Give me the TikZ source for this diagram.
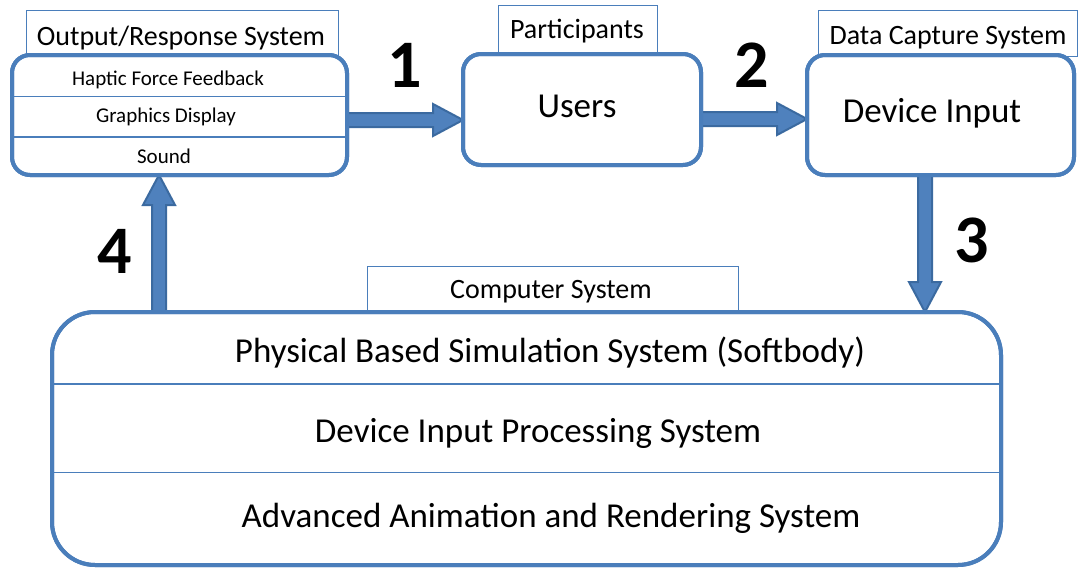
\documentclass[tikz,border=0pt]{standalone}
\usepackage{fontspec}
\setmainfont{Carlito}
\usetikzlibrary{calc}

\definecolor{boxblue}{RGB}{74,126,187}
\definecolor{arrowfill}{RGB}{79,129,189}
\definecolor{arrowedge}{RGB}{59,106,160}

\tikzset{
  caption/.style={draw=boxblue, line width=1pt, fill=white, inner sep=0pt, outer sep=0pt},
  roundbox/.style={draw=boxblue, line width=4pt, fill=white, inner sep=0pt, outer sep=0pt},
  divider/.style={draw=boxblue, line width=1.5pt},
  fatarrow/.style={fill=arrowfill, draw=arrowedge, line width=2pt, line join=miter},
  captiontext/.style={anchor=base, inner sep=0pt, font=\fontsize{28}{33}\selectfont},
  itemtext/.style={anchor=base, inner sep=0pt, font=\fontsize{21}{25}\selectfont},
  bigtext/.style={anchor=base, inner sep=0pt, font=\fontsize{35}{41}\selectfont},
  steplabel/.style={anchor=base, inner sep=0pt, font=\fontsize{68}{80}\selectfont\bfseries},
}

% horizontal block arrow: start, end, centre row
\newcommand\hblockarrow[3]{%
  \path[fatarrow] let \p1=(#1), \p2=(#2) in
    (\x1,{-(#3-7)*1pt}) -- ({\x2-30pt},{-(#3-7)*1pt}) -- ({\x2-30pt},{-(#3-16)*1pt})
    -- (\x2,{-(#3)*1pt}) -- ({\x2-30pt},{-(#3+16)*1pt}) -- ({\x2-30pt},{-(#3+7)*1pt})
    -- (\x1,{-(#3+7)*1pt}) -- cycle;}
% vertical block arrow: start, end, centre column, direction (+1 pointing down, -1 pointing up)
\newcommand\vblockarrow[4]{%
  \path[fatarrow] let \p1=(#1), \p2=(#2) in
    ({(#3-7)*1pt},\y1) -- ({(#3-7)*1pt},{\y2+#4*30pt}) -- ({(#3-16)*1pt},{\y2+#4*30pt})
    -- ({(#3)*1pt},\y2) -- ({(#3+16)*1pt},{\y2+#4*30pt}) -- ({(#3+7)*1pt},{\y2+#4*30pt})
    -- ({(#3+7)*1pt},\y1) -- cycle;}

\begin{document}
\begin{tikzpicture}[x=1pt,y=-1pt]
\useasboundingbox (0,0) rectangle (1079,570);
\fill[white] (0,0) rectangle (1079,570);

% caption tabs behind the boxes
\node[caption, minimum width=312, minimum height=46] (outcap) at (182,33) {};
\node[caption, minimum width=159, minimum height=50] (partcap) at (577.5,30) {};
\node[caption, minimum width=259, minimum height=46] (datacap) at (947.5,33) {};
\node[caption, minimum width=371, minimum height=46] (compcap) at (552.5,289) {};

% boxes
\node[roundbox, rounded corners=18pt, minimum width=335, minimum height=120] (outbox) at (179.5,115) {};
\node[roundbox, rounded corners=18pt, minimum width=238, minimum height=111] (users) at (582,109.5) {};
\node[roundbox, rounded corners=18pt, minimum width=267, minimum height=120] (devbox) at (940.5,115) {};
\node[roundbox, rounded corners=43pt, minimum width=949, minimum height=253] (compbox) at (526.5,438.5) {};

% block arrows between the boxes
\hblockarrow{outbox.east}{users.west}{120}
\hblockarrow{users.east}{devbox.west}{119}
\vblockarrow{devbox.south}{compbox.north}{925}{1}
\vblockarrow{compbox.north}{outbox.south}{159}{-1}

% redraw box outlines over the arrow ends
\draw[boxblue, line width=4pt, rounded corners=18pt] (outbox.south west) rectangle (outbox.north east);
\draw[boxblue, line width=4pt, rounded corners=18pt] (users.south west) rectangle (users.north east);
\draw[boxblue, line width=4pt, rounded corners=18pt] (devbox.south west) rectangle (devbox.north east);
\draw[boxblue, line width=4pt, rounded corners=43pt] (compbox.south west) rectangle (compbox.north east);

% dividers
\coordinate (od1) at (0,96.5);
\coordinate (od2) at (0,137);
\coordinate (cd1) at (0,384);
\coordinate (cd2) at (0,472.5);
\draw[divider] (outbox.west |- od1) -- (outbox.east |- od1);
\draw[divider] (outbox.west |- od2) -- (outbox.east |- od2);
\draw[divider] (compbox.west |- cd1) -- (compbox.east |- cd1);
\draw[divider] (compbox.west |- cd2) -- (compbox.east |- cd2);

% captions
\node[captiontext] (outcapt) at (181,45) {Output/Response System};
\node[captiontext] (partcapt) at (577,38) {Participants};
\node[captiontext] (datacapt) at (948,44) {Data Capture System};
\node[captiontext] (compcapt) at (551,298) {Computer System};

% box contents
\node[itemtext] (haptic) at (168,85) {Haptic Force Feedback};
\node[itemtext] (graphics) at (166,122) {Graphics Display};
\node[itemtext] (sound) at (164,163) {Sound};
\node[bigtext] (userst) at (577,117) {Users};
\node[bigtext] (devt) at (932,122) {Device Input};
\node[bigtext] (physt) at (550,362) {Physical Based Simulation System (Softbody)};
\node[bigtext] (dipt) at (538,442) {Device Input Processing System};
\node[bigtext] (anit) at (551,527) {Advanced Animation and Rendering System};

% step numbers
\node[steplabel] (n1) at (405,87) {1};
\node[steplabel] (n2) at (752,87) {2};
\node[steplabel] (n3) at (972,262) {3};
\node[steplabel] (n4) at (115,273) {4};
\end{tikzpicture}
\end{document}
